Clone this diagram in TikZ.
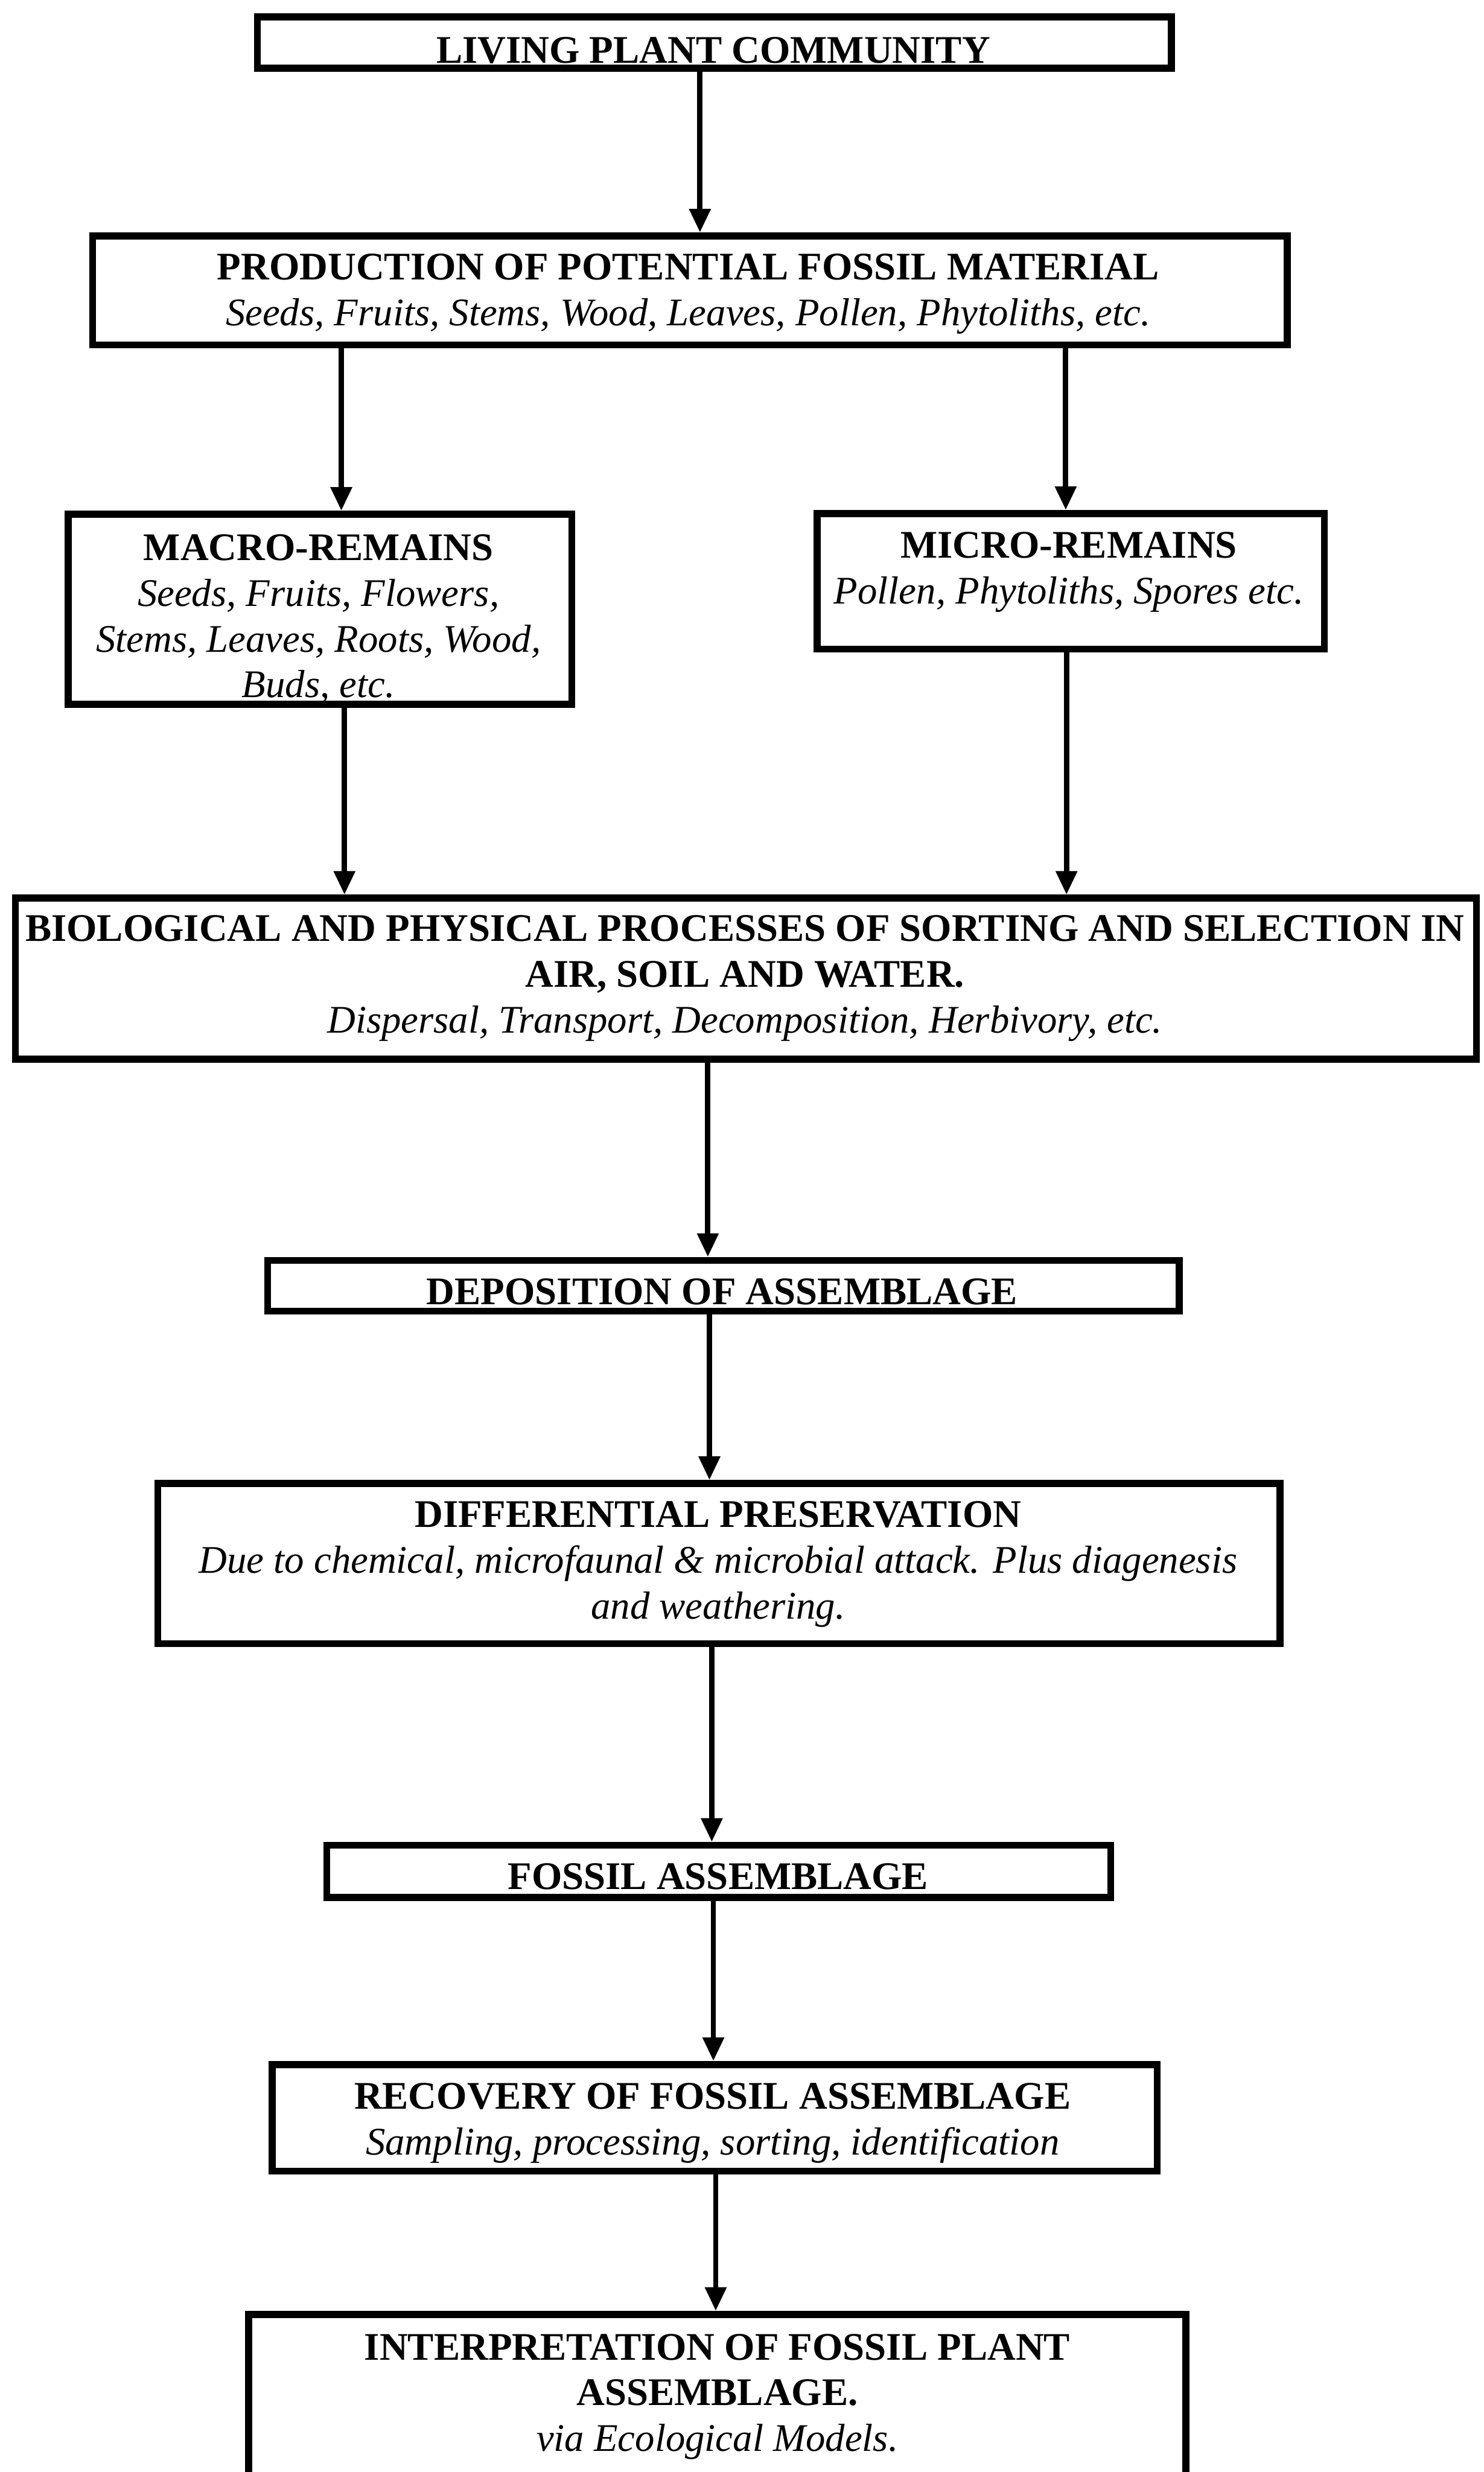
\documentclass[tikz,border=0pt]{standalone}
\usepackage{fontspec}
\setmainfont{Liberation Serif}
\usetikzlibrary{arrows.meta}
\begin{document}
\begin{tikzpicture}[x=0.5pt,y=-0.5pt,
  box/.style={draw, line width=2.2pt, inner sep=0pt},
  txt/.style={align=center, anchor=base, inner sep=0pt, font=\fontsize{12.4}{14.5}\selectfont},
  arr/.style={line width=1.7pt, -{Triangle[length=7.5pt,width=6.5pt]}}]
\useasboundingbox (0,0) rectangle (941,1568);
\clip (0,0) rectangle (941,1568);
% boxes
\node[box, minimum width=289.9pt, minimum height=16.3pt] (b1) at (453.1,27) {};
\node[box, minimum width=378.9pt, minimum height=34.55pt] (b2) at (437.6,184.25) {};
\node[box, minimum width=159.8pt, minimum height=60.3pt] (b3) at (203,386.5) {};
\node[box, minimum width=160.8pt, minimum height=43.05pt] (b4) at (679.2,368.75) {};
\node[box, minimum width=463.4pt, minimum height=51.05pt] (b5) at (473.1,620.75) {};
\node[box, minimum width=289.15pt, minimum height=16.05pt] (b6) at (458.85,815.55) {};
\node[box, minimum width=355.9pt, minimum height=50.8pt] (b7) at (456.1,991.8) {};
\node[box, minimum width=248.65pt, minimum height=16.55pt] (b8) at (455.85,1187.05) {};
\node[box, minimum width=280.65pt, minimum height=33.8pt] (b9) at (453.35,1343.3) {};
\node[box, minimum width=297.3pt, minimum height=76pt] (b10) at (455,1544) {};
% texts (base anchor = baseline of last line)
\node[txt] (t1) at (452.5,40) {\textbf{LIVING PLANT COMMUNITY}};
\node[txt] (t2) at (436.5,206.5) {\textbf{PRODUCTION OF POTENTIAL FOSSIL MATERIAL}\\\textit{Seeds, Fruits, Stems, Wood, Leaves, Pollen, Phytoliths, etc.}};
\node[txt] (t3) at (202,442.5) {\textbf{MACRO-REMAINS}\\\textit{Seeds, Fruits, Flowers,}\\\textit{Stems, Leaves, Roots, Wood,}\\\textit{Buds, etc.}};
\node[txt] (t4) at (678,383) {\textbf{MICRO-REMAINS}\\\textit{Pollen, Phytoliths, Spores etc.}};
\node[txt] (t5) at (472.5,655) {\textbf{BIOLOGICAL AND PHYSICAL PROCESSES OF SORTING AND SELECTION IN}\\\textbf{AIR, SOIL AND WATER.}\\\textit{Dispersal, Transport, Decomposition, Herbivory, etc.}};
\node[txt] (t6) at (458,827.3) {\textbf{DEPOSITION OF ASSEMBLAGE}};
\node[txt] (t7) at (455.5,1026.8) {\textbf{DIFFERENTIAL PRESERVATION}\\\textit{Due to chemical, microfaunal \& microbial attack. Plus diagenesis}\\\textit{and weathering.}};
\node[txt] (t8) at (455.5,1198.3) {\textbf{FOSSIL ASSEMBLAGE}};
\node[txt] (t9) at (452,1366.8) {\textbf{RECOVERY OF FOSSIL ASSEMBLAGE}\\\textit{Sampling, processing, sorting, identification}};
\node[txt] (t10) at (455,1554.8) {\textbf{INTERPRETATION OF FOSSIL PLANT}\\\textbf{ASSEMBLAGE.}\\\textit{via Ecological Models.}};
% arrows
\draw[arr] (444,0 |- b1.south) -- (444,0 |- b2.north);
\draw[arr] (216.5,0 |- b2.south) -- (216.5,0 |- b3.north);
\draw[arr] (676,0 |- b2.south) -- (676,0 |- b4.north);
\draw[arr] (218.5,0 |- b3.south) -- (218.5,0 |- b5.north);
\draw[arr] (676.5,0 |- b4.south) -- (676.5,0 |- b5.north);
\draw[arr] (449,0 |- b5.south) -- (449,0 |- b6.north);
\draw[arr] (450,0 |- b6.south) -- (450,0 |- b7.north);
\draw[arr] (451.5,0 |- b7.south) -- (451.5,0 |- b8.north);
\draw[arr] (452.5,0 |- b8.south) -- (452.5,0 |- b9.north);
\draw[arr] (454,0 |- b9.south) -- (454,0 |- b10.north);
\end{tikzpicture}
\end{document}
